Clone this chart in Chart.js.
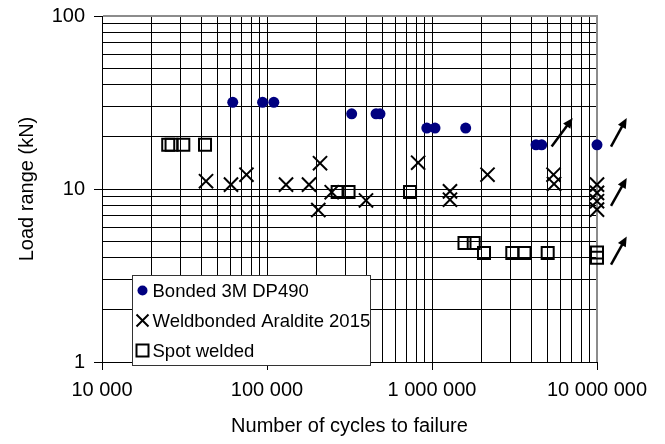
<!DOCTYPE html>
<html><head><meta charset="utf-8">
<script src="https://cdn.jsdelivr.net/npm/chart.js@4/dist/chart.umd.min.js"></script>
<style>html,body{margin:0;padding:0;background:#fff;} #wrap{width:665px;height:444px;position:relative;}</style>
</head><body><div id="wrap"><canvas id="c" width="665" height="444"></canvas></div>
<script>
const seriesNames = ['Bonded 3M DP490', 'Weldbonded Araldite 2015', 'Spot welded'];
const bondedCycles = [62000, 94000, 110000, 326000, 458000, 484000, 930000, 1043000, 1600000, 4270000, 4620000, 10000000];
const bondedLoad   = [31.7, 31.7, 31.7, 27.2, 27.2, 27.2, 22.5, 22.5, 22.5, 18, 18, 18];
const weldCycles = [42700, 60500, 75100, 130400, 179700, 209600, 204600, 246700, 398000, 824000, 1285000, 1285000, 2170000, 5450000, 5490000, 10000000, 10000000, 10000000, 10000000];
const weldLoad   = [11.1, 10.6, 12.1, 10.6, 10.6, 14.1, 7.56, 9.58, 8.59, 14.2, 9.69, 8.67, 12.1, 12.1, 10.7, 10.6, 9.5, 8.5, 7.6];
const spotCycles = [25200, 26400, 31100, 42100, 268000, 312000, 736000, 1574000, 1790000, 2066000, 3067000, 3636000, 5025000, 10000000, 10000000];
const spotLoad   = [18, 18, 18, 18, 9.6, 9.6, 9.6, 4.87, 4.87, 4.27, 4.27, 4.27, 4.27, 4.3, 4.0];
// run-out arrows (start / end in data units)
const runoutFromCycles = [5310000, 12160000, 12160000, 12160000];
const runoutFromLoad   = [17.6, 17.6, 8.0, 3.65];
const runoutToCycles   = [7120000, 15140000, 15140000, 15140000];
const runoutToLoad     = [25.7, 25.7, 11.57, 5.32];
const xTickValues = [10000, 100000, 1000000, 10000000];
const xTickLabels = ['10 000', '100 000', '1 000 000', '10 000 000'];
const yTickValues = [1, 10, 100];
const yTickLabels = ['1', '10', '100'];
const xTitle = 'Number of cycles to failure';
const yTitle = 'Load range (kN)';

const FONT = '"Liberation Sans", Arial, sans-serif';
function logGrid(majors){
  const out = [];
  for (let i = 0; i < majors.length; i++){
    if (i === majors.length - 1){ out.push(majors[i]); break; }
    for (let k = 1; k < 10; k++) out.push(Math.round(majors[i] * k * 1000) / 1000);
  }
  return out;
}
const xGrid = logGrid(xTickValues);
const yGrid = logGrid(yTickValues);
function findIdx(arr, v){ return arr.findIndex(a => Math.abs(a - v) / a < 1e-6); }
function pts(xs, ys){ return xs.map((x, i) => ({x: x, y: ys[i]})); }
function noPad(s){ s.paddingTop = 0; s.paddingBottom = 0; s.paddingLeft = 0; s.paddingRight = 0; }

function drawArrow(ctx, x1, y1, x2, y2){
  const a = Math.atan2(y2 - y1, x2 - x1), hl = 10, hw = 4.5;
  const c = Math.cos(a), s = Math.sin(a);
  ctx.beginPath(); ctx.moveTo(x1, y1); ctx.lineTo(x2 - hl * 0.7 * c, y2 - hl * 0.7 * s); ctx.stroke();
  ctx.beginPath(); ctx.moveTo(x2, y2);
  ctx.lineTo(x2 - hl * c + hw * s, y2 - hl * s - hw * c);
  ctx.lineTo(x2 - hl * c - hw * s, y2 - hl * s + hw * c);
  ctx.closePath(); ctx.fill();
}

const extras = {
  id: 'extras',
  beforeDatasetsDraw(chart){
    const {ctx, chartArea: a} = chart;
    ctx.save();
    ctx.strokeStyle = '#8c8c8c'; ctx.lineWidth = 2;
    ctx.beginPath(); ctx.moveTo(a.left + 1, a.top); ctx.lineTo(a.right, a.top); ctx.lineTo(a.right, a.bottom); ctx.stroke();
    ctx.restore();
  },
  afterDraw(chart){
    const {ctx, chartArea: a} = chart;
    const xs = chart.scales.x, ys = chart.scales.y;
    ctx.save();
    ctx.strokeStyle = '#000'; ctx.fillStyle = '#000'; ctx.lineWidth = 2.5; ctx.lineCap = 'butt';
    for (let i = 0; i < runoutFromCycles.length; i++){
      drawArrow(ctx, xs.getPixelForValue(runoutFromCycles[i]), ys.getPixelForValue(runoutFromLoad[i]),
                     xs.getPixelForValue(runoutToCycles[i]), ys.getPixelForValue(runoutToLoad[i]));
    }
    // legend box
    const L = Math.round(a.left) + 30.5, T = Math.round(a.top) + 259.5, W = 238, H = 90;
    ctx.fillStyle = '#fff'; ctx.fillRect(L, T, W, H);
    ctx.strokeStyle = '#333'; ctx.lineWidth = 1; ctx.strokeRect(L, T, W, H);
    ctx.font = '18.5px ' + FONT; ctx.textBaseline = 'middle'; ctx.textAlign = 'left'; ctx.fillStyle = '#000';
    const mx = L + 10, tx = L + 20;
    seriesNames.forEach((name, i) => {
      const cy = T + 15 + i * 30;
      ctx.save();
      if (i === 0){ ctx.fillStyle = '#000080'; ctx.beginPath(); ctx.arc(mx, cy, 5, 0, Math.PI * 2); ctx.fill(); }
      else if (i === 1){ ctx.strokeStyle = '#000'; ctx.lineWidth = 2; ctx.beginPath();
        ctx.moveTo(mx - 6, cy - 6); ctx.lineTo(mx + 6, cy + 6); ctx.moveTo(mx + 6, cy - 6); ctx.lineTo(mx - 6, cy + 6); ctx.stroke(); }
      else { ctx.strokeStyle = '#000'; ctx.lineWidth = 2; ctx.strokeRect(mx - 6, cy - 6, 12, 12); }
      ctx.restore();
      ctx.fillText(name, tx, cy + 1);
    });
    ctx.restore();
  }
};

new Chart(document.getElementById('c'), {
  type: 'scatter',
  data: {
    datasets: [
      {label: seriesNames[0], data: pts(bondedCycles, bondedLoad), pointStyle: 'circle', pointRadius: 5.5,
       backgroundColor: '#000080', borderColor: '#000080', borderWidth: 0, clip: false},
      {label: seriesNames[1], data: pts(weldCycles, weldLoad), pointStyle: 'crossRot', pointRadius: 10,
       borderColor: '#000', backgroundColor: '#000', borderWidth: 2, clip: false},
      {label: seriesNames[2], data: pts(spotCycles, spotLoad), pointStyle: 'rect', pointRadius: 8.5,
       borderColor: '#000', backgroundColor: 'rgba(0,0,0,0)', borderWidth: 2, clip: false}
    ]
  },
  options: {
    responsive: false, animation: false, devicePixelRatio: 1,
    layout: {padding: {left: 0, right: 68, top: 16, bottom: 0}},
    plugins: {legend: {display: false}, tooltip: {enabled: false}},
    scales: {
      x: {
        type: 'logarithmic', min: xTickValues[0], max: xTickValues[xTickValues.length - 1],
        afterBuildTicks: s => { s.ticks = xGrid.map(v => ({value: v})); },
        afterFit: s => { s.height = 82; noPad(s); },
        ticks: {autoSkip: false, maxRotation: 0, minRotation: 0, padding: 8, color: '#000',
          font: {size: 20, family: FONT},
          callback: v => { const i = findIdx(xTickValues, v); return i >= 0 ? xTickLabels[i] : ''; }},
        grid: {color: '#000', lineWidth: 1, tickLength: 8,
          tickColor: c => (c.tick && findIdx(xTickValues, c.tick.value) >= 0) ? '#000' : 'rgba(0,0,0,0)'},
        border: {color: '#000', width: 1},
        title: {display: true, text: xTitle, color: '#000', font: {size: 20, family: FONT}, padding: {top: 0, bottom: 6}}
      },
      y: {
        type: 'logarithmic', min: yTickValues[0], max: yTickValues[yTickValues.length - 1],
        afterBuildTicks: s => { s.ticks = yGrid.map(v => ({value: v})); },
        afterFit: s => { s.width = 102; noPad(s); },
        ticks: {autoSkip: false, padding: 9, color: '#000', font: {size: 20, family: FONT},
          callback: v => { const i = findIdx(yTickValues, v); return i >= 0 ? yTickLabels[i] : ''; }},
        grid: {color: '#000', lineWidth: 1, tickLength: 8,
          tickColor: c => (c.tick && findIdx(yTickValues, c.tick.value) >= 0) ? '#000' : 'rgba(0,0,0,0)'},
        border: {color: '#000', width: 1},
        title: {display: true, text: yTitle, color: '#000', font: {size: 20, family: FONT}, padding: {top: 15, bottom: 0}}
      }
    }
  },
  plugins: [extras]
});
</script></body></html>
